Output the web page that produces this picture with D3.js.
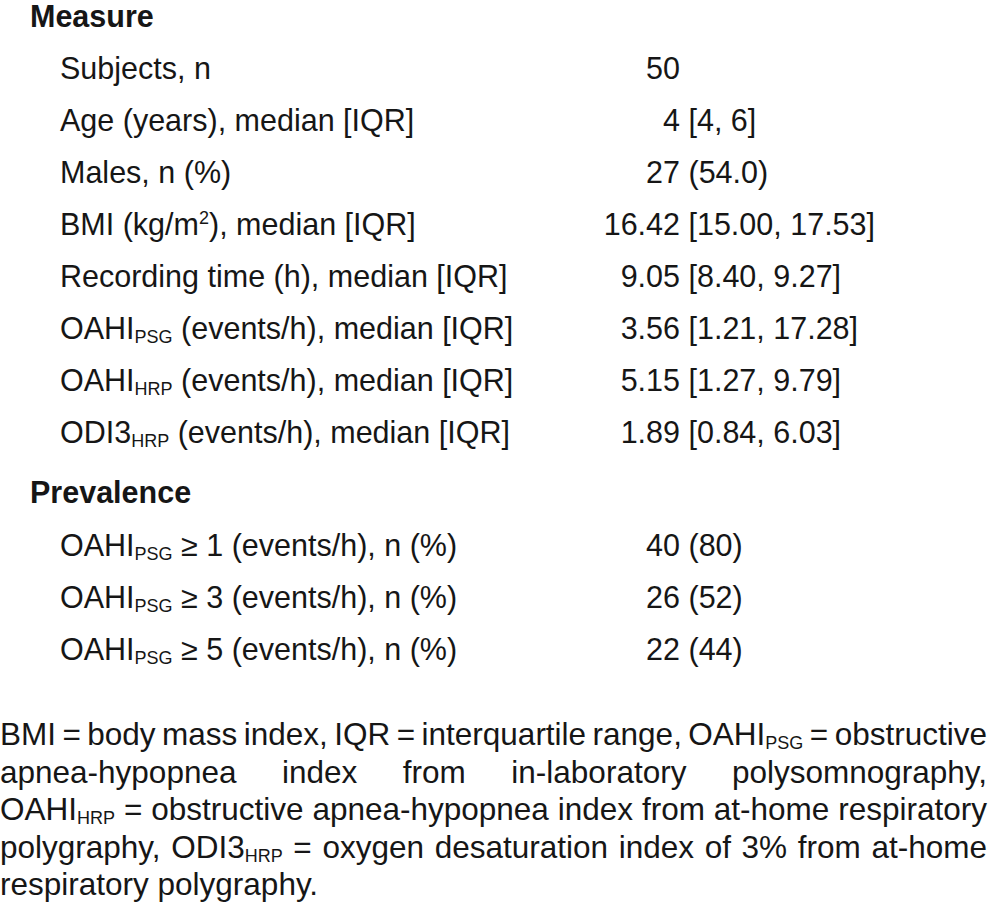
<!DOCTYPE html>
<html>
<head>
<meta charset="utf-8">
<script src="https://cdn.jsdelivr.net/npm/d3@7"></script>
<style>
  body { margin: 0; background: #fff; }
  svg text { font-family: "Liberation Sans", Arial, Helvetica, sans-serif; fill: #161616; }
</style>
</head>
<body>
<svg id="table"></svg>
<script>
const WIDTH = 989;
const HEIGHT = 920;

// table content; _{..} is a subscript, ^{..} a superscript
const measureLabels = [
  "Subjects, n",
  "Age (years), median [IQR]",
  "Males, n (%)",
  "BMI (kg/m^{2}), median [IQR]",
  "Recording time (h), median [IQR]",
  "OAHI_{PSG} (events/h), median [IQR]",
  "OAHI_{HRP} (events/h), median [IQR]",
  "ODI3_{HRP} (events/h), median [IQR]"
];
const measureValues = [
  "50",
  "4 [4, 6]",
  "27 (54.0)",
  "16.42 [15.00, 17.53]",
  "9.05 [8.40, 9.27]",
  "3.56 [1.21, 17.28]",
  "5.15 [1.27, 9.79]",
  "1.89 [0.84, 6.03]"
];
const prevalenceLabels = [
  "OAHI_{PSG} ≥ 1 (events/h), n (%)",
  "OAHI_{PSG} ≥ 3 (events/h), n (%)",
  "OAHI_{PSG} ≥ 5 (events/h), n (%)"
];
const prevalenceValues = ["40 (80)", "26 (52)", "22 (44)"];
const sectionTitles = ["Measure", "Prevalence"];
const footnoteLines = [
  "BMI = body mass index, IQR = interquartile range, OAHI_{PSG} = obstructive",
  "apnea-hypopnea index from in-laboratory polysomnography,",
  "OAHI_{HRP} = obstructive apnea-hypopnea index from at-home respiratory",
  "polygraphy, ODI3_{HRP} = oxygen desaturation index of 3% from at-home",
  "respiratory polygraphy."
];

const FS = 30.5;
const FOOT_FS = 31.5;
const SUB_FS = 18;

window.onload = function(){
  drawTable();
};

// split "OAHI_{PSG} ..." into segments
function parseRich(str){
  const parts = [];
  const re = /([_^])\{([^}]*)\}/g;
  let last = 0, m;
  while((m = re.exec(str)) !== null){
    if(m.index > last) parts.push({t: str.slice(last, m.index), k: "n"});
    parts.push({t: m[2], k: m[1] === "_" ? "sub" : "sup"});
    last = re.lastIndex;
  }
  if(last < str.length) parts.push({t: str.slice(last), k: "n"});
  return parts;
}

function writeRich(textSel, str){
  let shift = 0;
  parseRich(str).forEach(p => {
    const ts = textSel.append("tspan").text(p.t);
    let target = 0;
    if(p.k === "sub"){ ts.style("font-size", SUB_FS + "px"); target = 4; }
    if(p.k === "sup"){ ts.style("font-size", SUB_FS + "px"); target = -11; }
    if(target !== shift){ ts.attr("dy", target - shift); shift = target; }
  });
}

function drawTable(){
  const svg = d3.select("#table")
    .attr("width", WIDTH)
    .attr("height", HEIGHT);

  const x = d3.scaleOrdinal()
    .domain(["section", "label", "valueSplit"])
    .range([30, 60, 680]);

  const yMeasure = d3.scaleLinear().domain([0, 1]).range([79, 131]);
  const yPrev = d3.scaleLinear().domain([0, 1]).range([556, 608]);

  // section titles
  svg.selectAll("text.section")
    .data(sectionTitles)
    .enter()
    .append("text")
    .attr("class", "section")
    .attr("x", x("section"))
    .attr("y", (d, i) => i === 0 ? 27 : 503)
    .style("font-size", FS + "px")
    .style("font-weight", "bold")
    .text(d => d);

  function drawRows(labels, values, y, cls){
    const g = svg.append("g").attr("class", cls);
    g.selectAll("text.label")
      .data(labels)
      .enter()
      .append("text")
      .attr("class", "label")
      .attr("x", x("label"))
      .attr("y", (d, i) => y(i))
      .style("font-size", FS + "px")
      .each(function(d){ writeRich(d3.select(this), d); });

    // first number right-aligned, rest follows after a space
    const rows = g.selectAll("g.val")
      .data(values)
      .enter()
      .append("g")
      .attr("class", "val");
    rows.append("text")
      .attr("x", x("valueSplit"))
      .attr("y", (d, i) => y(i))
      .attr("text-anchor", "end")
      .style("font-size", FS + "px")
      .text(d => d.split(" ")[0]);
    rows.append("text")
      .attr("x", x("valueSplit") + FS * 0.278)
      .attr("y", (d, i) => y(i))
      .style("font-size", FS + "px")
      .text(d => d.split(" ").slice(1).join(" "));
  }

  drawRows(measureLabels, measureValues, yMeasure, "measure");
  drawRows(prevalenceLabels, prevalenceValues, yPrev, "prevalence");

  // footnote, justified except for the last line
  const yFoot = d3.scaleLinear().domain([0, 1]).range([745, 782.5]);
  const left = 0, right = 987;
  footnoteLines.forEach((line, li) => {
    const g = svg.append("g").attr("class", "foot");
    const words = line.split(" ");
    const nodes = words.map(w => {
      const t = g.append("text")
        .attr("y", yFoot(li))
        .style("font-size", FOOT_FS + "px");
      writeRich(t, w);
      return t;
    });
    const widths = nodes.map(t => t.node().getComputedTextLength());
    const total = d3.sum(widths);
    const last = li === footnoteLines.length - 1;
    const gap = last || words.length < 2 ? FOOT_FS * 0.278 : (right - left - total) / (words.length - 1);
    let cx = left;
    nodes.forEach((t, i) => {
      t.attr("x", cx);
      cx += widths[i] + gap;
    });
  });
}
</script>
</body>
</html>
